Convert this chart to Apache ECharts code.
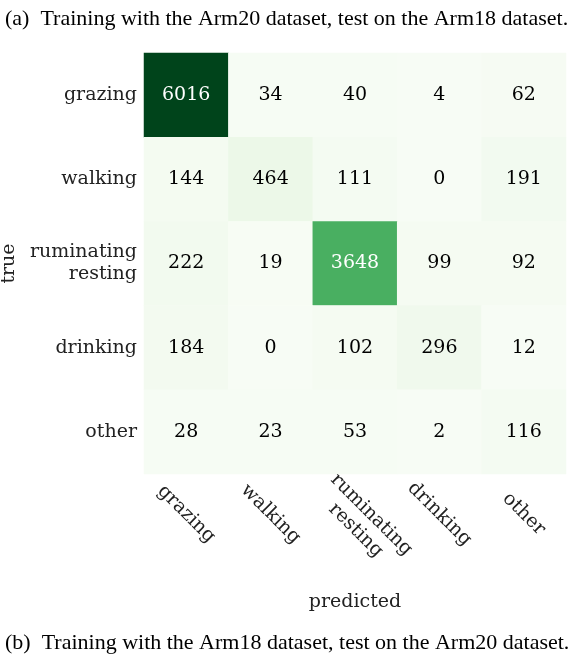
<!DOCTYPE html>
<html>
<head>
<meta charset="utf-8">
<script src="https://cdn.jsdelivr.net/npm/echarts@6/dist/echarts.min.js"></script>
<style>
  html, body { margin: 0; padding: 0; background: #fff; }
  #main { width: 568px; height: 654px; }
</style>
</head>
<body>
<div id="main"></div>
<script>
var predictedLabels = ['grazing', 'walking', 'ruminating\nresting', 'drinking', 'other'];
var trueLabels = ['grazing', 'walking', 'ruminating\nresting', 'drinking', 'other'];
// rows = true class, columns = predicted class
var matrix = [
    [6016, 34, 40, 4, 62],
    [144, 464, 111, 0, 191],
    [222, 19, 3648, 99, 92],
    [184, 0, 102, 296, 12],
    [28, 23, 53, 2, 116]
];
var greens = ['#f7fcf5', '#e5f5e0', '#c7e9c0', '#a1d99b', '#74c476', '#41ab5d', '#238b45', '#006d2c', '#00441b'];

var maxVal = 0;
matrix.forEach(function (row) {
    row.forEach(function (v) { if (v > maxVal) maxVal = v; });
});

var cells = [];
matrix.forEach(function (row, i) {
    row.forEach(function (v, j) {
        cells.push({
            value: [j, i, v],
            label: {color: v > maxVal / 2 ? '#ffffff' : '#000000'}
        });
    });
});

// the two-line tick label has a taller rotated box, push it a bit lower
// (item textStyle does not inherit align from axisLabel, so repeat it)
var xCats = predictedLabels.map(function (name) {
    if (name.indexOf('\n') >= 0) {
        return {value: name, textStyle: {align: 'center', verticalAlign: 'middle', padding: [32, 0, 0, 24]}};
    }
    return name;
});

var serif = 'DejaVu Serif';
var myChart = echarts.init(document.getElementById('main'));
var option = {
    backgroundColor: '#ffffff',
    animation: false,
    title: [
        {
            text: '(a)  Training with the Arm20 dataset, test on the Arm18 dataset.',
            left: 0,
            top: 3,
            textStyle: {fontFamily: 'Liberation Serif', fontSize: 22, fontWeight: 'normal', color: '#000'}
        },
        {
            text: '(b)  Training with the Arm18 dataset, test on the Arm20 dataset.',
            left: 0,
            top: 627,
            textStyle: {fontFamily: 'Liberation Serif', fontSize: 22, fontWeight: 'normal', color: '#000'}
        }
    ],
    grid: {left: 144, top: 53, right: 2, bottom: 180, containLabel: false, outerBoundsMode: 'none'},
    xAxis: {
        type: 'category',
        data: xCats,
        position: 'bottom',
        name: 'predicted',
        nameLocation: 'middle',
        nameGap: 119,
        nameMoveOverlap: false,
        nameTextStyle: {fontFamily: serif, fontSize: 19, color: '#222'},
        axisLine: {show: false},
        axisTick: {show: false},
        splitLine: {show: false},
        axisLabel: {
            rotate: -45,
            align: 'center',
            verticalAlign: 'middle',
            margin: 40,
            interval: 0,
            fontFamily: serif,
            fontSize: 19,
            lineHeight: 22,
            color: '#222'
        }
    },
    yAxis: {
        type: 'category',
        data: trueLabels,
        inverse: true,
        name: 'true',
        nameLocation: 'middle',
        nameGap: 125,
        nameTextStyle: {fontFamily: serif, fontSize: 19, color: '#222'},
        axisLine: {show: false},
        axisTick: {show: false},
        splitLine: {show: false},
        axisLabel: {
            margin: 7,
            interval: 0,
            fontFamily: serif,
            fontSize: 19,
            lineHeight: 22,
            color: '#222'
        }
    },
    visualMap: {
        show: false,
        min: 0,
        max: maxVal,
        dimension: 2,
        inRange: {color: greens}
    },
    series: [
        {
            type: 'heatmap',
            data: cells,
            label: {
                show: true,
                fontFamily: serif,
                fontSize: 19,
                formatter: function (p) { return p.value[2]; }
            },
            itemStyle: {borderWidth: 0}
        }
    ]
};
myChart.setOption(option);
window.onresize = myChart.resize;
</script>
</body>
</html>
